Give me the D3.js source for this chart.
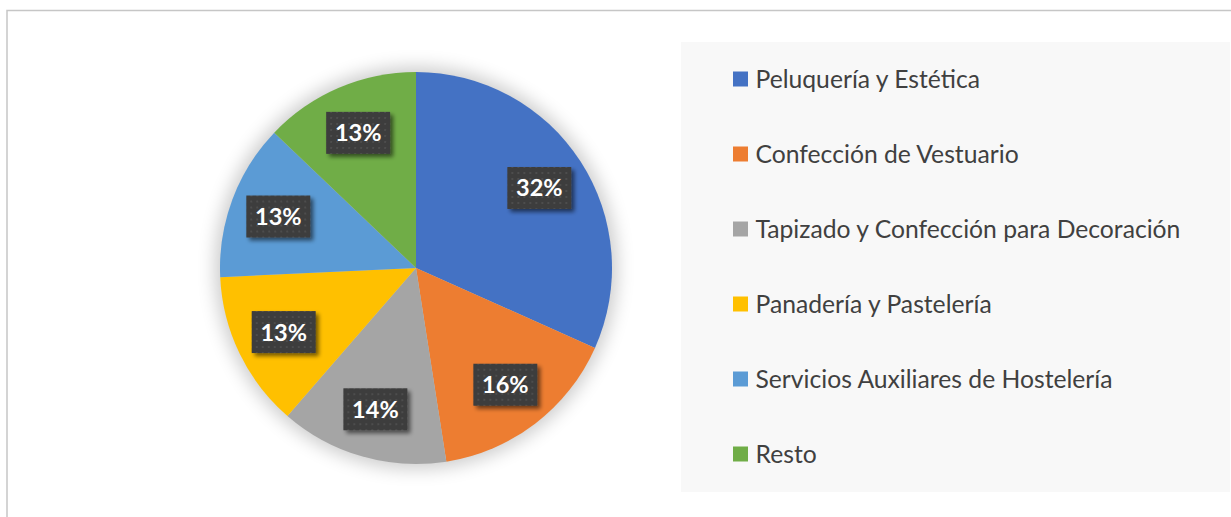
<!DOCTYPE html>
<html>
<head>
<meta charset="utf-8">
<script src="https://cdn.jsdelivr.net/npm/d3@7"></script>
<style>
  html, body { margin: 0; padding: 0; background: #ffffff; }
  svg { display: block; }
</style>
</head>
<body>
<svg id="chart" width="1231" height="517"></svg>
<script>
// Share of enrolment by training programme
const categories = [
  "Peluquería y Estética",
  "Confección de Vestuario",
  "Tapizado y Confección para Decoración",
  "Panadería y Pastelería",
  "Servicios Auxiliares de Hostelería",
  "Resto"
];
const values = [32, 16, 14, 13, 13, 13];
const colors = ["#4472c4", "#ed7d31", "#a5a5a5", "#ffc000", "#5b9bd5", "#70ad47"];

const svg = d3.select("#chart");
const W = 1231, H = 517;

const defs = svg.append("defs");

// soft halo behind the pie
const halo = defs.append("filter").attr("id", "halo")
  .attr("x", "-20%").attr("y", "-20%").attr("width", "140%").attr("height", "140%");
halo.append("feGaussianBlur").attr("stdDeviation", 9);

// label box shadow
const boxShadow = defs.append("filter").attr("id", "boxShadow")
  .attr("x", "-30%").attr("y", "-30%").attr("width", "170%").attr("height", "180%");
boxShadow.append("feGaussianBlur").attr("in", "SourceAlpha").attr("stdDeviation", 2.2).attr("result", "b");
boxShadow.append("feOffset").attr("in", "b").attr("dx", 3).attr("dy", 3).attr("result", "o");
boxShadow.append("feComponentTransfer").attr("in", "o").attr("result", "s")
  .append("feFuncA").attr("type", "linear").attr("slope", 0.55);
const bm = boxShadow.append("feMerge");
bm.append("feMergeNode").attr("in", "s");
bm.append("feMergeNode").attr("in", "SourceGraphic");

// dotted texture for label boxes
const pat = defs.append("pattern").attr("id", "dots")
  .attr("patternUnits", "userSpaceOnUse").attr("width", 6).attr("height", 6);
pat.append("rect").attr("width", 6).attr("height", 6).attr("fill", "#3c3c3c");
pat.append("rect").attr("x", 2).attr("y", 2).attr("width", 2).attr("height", 2).attr("fill", "#4d4d4d");

// outer chart frame
svg.append("rect")
  .attr("x", 7).attr("y", 10.5)
  .attr("width", W + 20).attr("height", H + 20)
  .attr("fill", "#ffffff")
  .attr("stroke", "#c6c6c6").attr("stroke-width", 1.5);

// legend panel
svg.append("rect")
  .attr("x", 681).attr("y", 42)
  .attr("width", 549).attr("height", 450)
  .attr("fill", "#f8f8f8");

// pie
const cx = 416, cy = 268, R = 196;
const pie = d3.pie().sort(null).value(d => d);
const arcs = pie(values);
const arc = d3.arc().innerRadius(0).outerRadius(R);
const labelArc = d3.arc().innerRadius(R * 0.75).outerRadius(R * 0.75);

const g = svg.append("g").attr("transform", `translate(${cx},${cy})`);

g.append("circle")
  .attr("r", R + 5)
  .attr("fill", "#000")
  .attr("opacity", 0.2)
  .attr("filter", "url(#halo)");

g.selectAll("path.slice")
  .data(arcs)
  .join("path")
  .attr("class", "slice")
  .attr("d", arc)
  .attr("fill", (d, i) => colors[i]);

// percentage labels
const labels = g.selectAll("g.lbl")
  .data(arcs)
  .join("g")
  .attr("class", "lbl")
  .attr("transform", d => `translate(${labelArc.centroid(d)})`);

labels.append("rect")
  .attr("x", -32).attr("y", -21)
  .attr("width", 64).attr("height", 42)
  .attr("fill", "url(#dots)")
  .attr("filter", "url(#boxShadow)");

labels.append("text")
  .attr("text-anchor", "middle")
  .attr("dy", "0.36em")
  .attr("fill", "#ffffff")
  .attr("font-family", "Lato, 'Open Sans', sans-serif")
  .attr("font-weight", "bold")
  .attr("font-size", 23.5)
  .text(d => `${d.data}%`);

// legend
const legendY = d3.scalePoint().domain(categories).range([79, 454]);
const leg = svg.append("g").selectAll("g")
  .data(categories)
  .join("g")
  .attr("transform", d => `translate(733,${legendY(d)})`);

leg.append("rect")
  .attr("x", 0).attr("y", -7.5)
  .attr("width", 15).attr("height", 15)
  .attr("fill", (d, i) => colors[i]);

leg.append("text")
  .attr("x", 22.5)
  .attr("dy", "0.36em")
  .attr("fill", "#404040")
  .attr("font-family", "Lato, 'Open Sans', sans-serif")
  .attr("font-size", 24.7)
  .text(d => d);
</script>
</body>
</html>
